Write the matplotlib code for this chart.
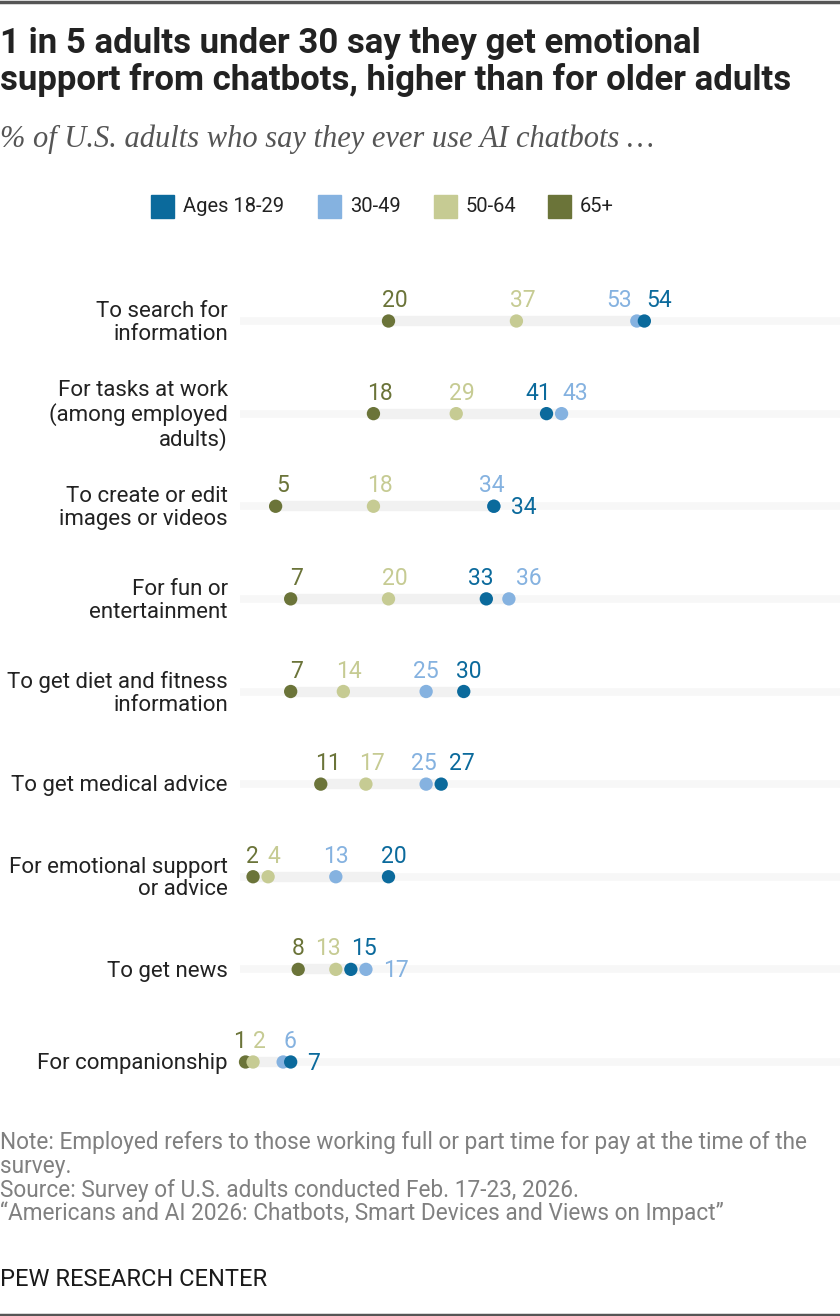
import numpy as np
from matplotlib import pyplot as plt
from matplotlib.patches import Rectangle

plt.rcParams['font.family'] = ['Roboto', 'DejaVu Sans']

categories = ['To search for\ninformation',
              'For tasks at work\n(among employed\nadults)',
              'To create or edit\nimages or videos',
              'For fun or\nentertainment',
              'To get diet and fitness\ninformation',
              'To get medical advice',
              'For emotional support\nor advice',
              'To get news',
              'For companionship']
series = ['Ages 18-29', '30-49', '50-64', '65+']
ages_18_29 = [54, 41, 34, 33, 30, 27, 20, 15, 7]
ages_30_49 = [53, 43, 34, 36, 25, 25, 13, 17, 6]
ages_50_64 = [37, 29, 18, 20, 14, 17, 4, 13, 2]
ages_65 = [20, 18, 5, 7, 7, 11, 2, 8, 1]

colors = ['#0b6a9c', '#85b2e0', '#c6cb93', '#6b7439']
# label nudge in px from the dot, 'r' = put the label right of the dot
nudge = [
    [15, -8, 'r', -6, 5, 21, 5, 13, 'r'],
    [-18, 14, -2, 20, 0, -2, 0, 'r', 7],
    [6, 6, 6, 6, 6, 6, 6, -8, 6],
    [6, 6, 7, 6, 6, 7, -1, 0, -6],
]

W, H = 840, 1316
fig = plt.figure(figsize=(W / 100, H / 100), dpi=100)

def fy(px):
    return 1 - px / H

def fx(px):
    return px / W

# axes placed so that x=0 sits at 238px and rows 321..1062px
ax_top, ax_bot = 274.7, 1108.3
ax = fig.add_axes([fx(238), fy(ax_bot), 1 - fx(238), (ax_bot - ax_top) / H])
ax.set_xlim(0, 80)
ax.set_ylim(len(categories) - 0.5, -0.5)
ax.axis('off')

data = [ages_18_29, ages_30_49, ages_50_64, ages_65]
ypos = np.arange(len(categories))
arr = np.array(data)
lo = arr.min(axis=0)
hi = arr.max(axis=0)

for i in ypos:
    ax.plot([0.2, 80], [i, i], color='#f7f7f7', lw=5.5, solid_capstyle='butt', zorder=1)
    ax.plot([lo[i], hi[i]], [i, i], color='#f1f1f1', lw=7.5, solid_capstyle='butt', zorder=2)

# lighter groups first so the dark dots sit on top
for k in [3, 2, 1, 0]:
    ax.scatter(data[k], ypos, s=92, color=colors[k], zorder=3 + (3 - k) * 0.1,
               edgecolors='none')

for k, name in enumerate(series):
    for i, v in enumerate(data[k]):
        n = nudge[k][i]
        if n == 'r':
            ax.annotate(str(v), (v, i), xytext=(12.2, -5.8), textcoords='offset points',
                        ha='left', va='baseline', fontsize=16.5, color=colors[k])
        else:
            ax.annotate(str(v), (v, i), xytext=(n * 0.72, 10), textcoords='offset points',
                        ha='center', va='baseline', fontsize=16.5, color=colors[k])

for i, c in enumerate(categories):
    fig.text(fx(228), fy(321 + i * 92.6 + 2), c, ha='right', va='center',
             fontsize=16, color='#222222', linespacing=1.1)

# title block
fig.text(0, fy(43), '1 in 5 adults under 30 say they get emotional', fontsize=25,
         fontweight='bold', color='#222222', va='center', ha='left')
fig.text(0, fy(80), 'support from chatbots, higher than for older adults', fontsize=25,
         fontweight='bold', color='#222222', va='center', ha='left')
fig.text(0, fy(139), '% of U.S. adults who say they ever use AI chatbots \u2026',
         fontsize=22, style='italic', family=['Liberation Serif', 'DejaVu Serif'],
         color='#555555', va='center', ha='left')

# legend
leg_x = [151, 318, 434, 548]
for k, name in enumerate(series):
    fig.patches.append(Rectangle((fx(leg_x[k]), fy(218)), 23 / W, 23 / H,
                                 transform=fig.transFigure, color=colors[k]))
    fig.text(fx(leg_x[k] + 32), fy(207), name, fontsize=14.5, color='#222222',
             va='center', ha='left')

# notes
narrow = ['Liberation Sans Narrow', 'Roboto']
notes = ['Note: Employed refers to those working full or part time for pay at the time of the',
         'survey.',
         'Source: Survey of U.S. adults conducted Feb. 17-23, 2026.',
         '\u201cAmericans and AI 2026: Chatbots, Smart Devices and Views on Impact\u201d']
for j, line in enumerate(notes):
    fig.text(0, fy(1143 + j * 23.5), line, fontsize=16.3, family=narrow, color='#808080',
             va='center', ha='left')
fig.text(0, fy(1280), 'PEW RESEARCH CENTER', fontsize=17, family=narrow,
         color='#1a1a1a', va='center', ha='left')

# top and bottom rules
fig.add_artist(plt.Line2D([0, 1], [fy(1.5), fy(1.5)], color='#555555', lw=2.5))
fig.add_artist(plt.Line2D([0, 1], [fy(1314.5), fy(1314.5)], color='#555555', lw=2.5))

plt.savefig('out.png', dpi=100)
